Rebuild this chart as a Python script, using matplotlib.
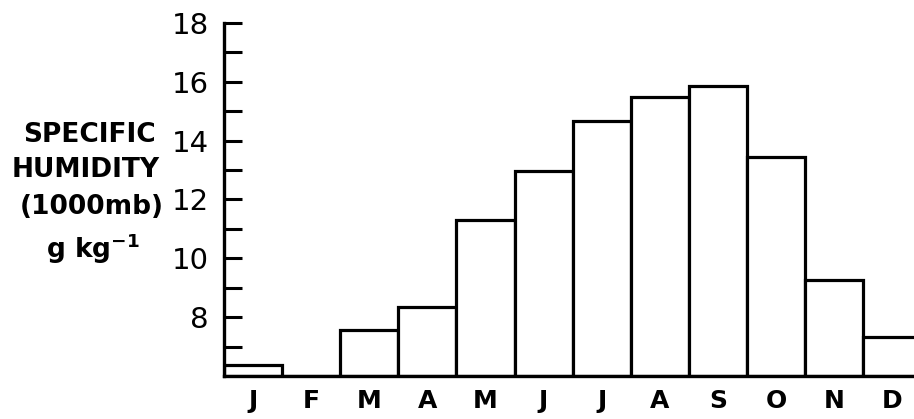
import matplotlib
matplotlib.use("Agg")
import matplotlib.pyplot as plt
import numpy as np

months = ["J", "F", "M", "A", "M", "J", "J", "A", "S", "O", "N", "D"]
humidity = [6.37, 6.0, 7.57, 8.36, 11.29, 12.98, 14.68, 15.47, 15.87, 13.43, 9.25, 7.33]
major_ticks = [8, 10, 12, 14, 16, 18]
minor_ticks = [7, 9, 11, 13, 15, 17]
y_base = 6.0
y_top = 18.0

W, H = 914, 419
fig = plt.figure(figsize=(W / 100, H / 100), dpi=100)

left_px, right_px = 224, 914
top_px, bottom_px = 23, 376
ax = fig.add_axes([left_px / W, 1 - bottom_px / H,
                   (right_px - left_px) / W, (bottom_px - top_px) / H])

bar_w_px = 58.1
x = np.arange(len(months))
heights = np.array(humidity) - y_base
ax.bar(x, heights, width=1.0, bottom=y_base, align="edge",
       facecolor="white", edgecolor="black", linewidth=2.3, clip_on=True)

ax.set_xlim(0, (right_px - left_px) / bar_w_px)
ax.set_ylim(y_base, y_top)

for side in ("top", "right"):
    ax.spines[side].set_visible(False)
ax.spines["left"].set_linewidth(2.4)
ax.spines["bottom"].set_linewidth(2.4)

ax.set_yticks(major_ticks)
ax.set_yticklabels([str(v) for v in major_ticks])
ax.set_yticks(minor_ticks, minor=True)
ax.tick_params(axis="y", which="both", direction="in", length=13, width=2.2,
               pad=11, labelsize=21)
ax.set_xticks(x + 0.5)
ax.set_xticklabels(months)
ax.tick_params(axis="x", length=0, pad=9, labelsize=18)
for lab in ax.get_xticklabels():
    lab.set_fontweight("bold")

# axis caption, stacked to the left of the scale
cap = dict(ha="center", va="baseline", fontsize=19, fontweight="bold",
           transform=fig.transFigure)
fig.text(89 / W, 1 - 142 / H, "SPECIFIC", **cap)
fig.text(86 / W, 1 - 177 / H, "HUMIDITY", **cap)
fig.text(92 / W, 1 - 214 / H, "(1000mb)", **cap)
fig.text(93 / W, 1 - 258 / H, r"g kg$^{\mathbf{-1}}$", **cap)

fig.savefig("out.png", dpi=100)
